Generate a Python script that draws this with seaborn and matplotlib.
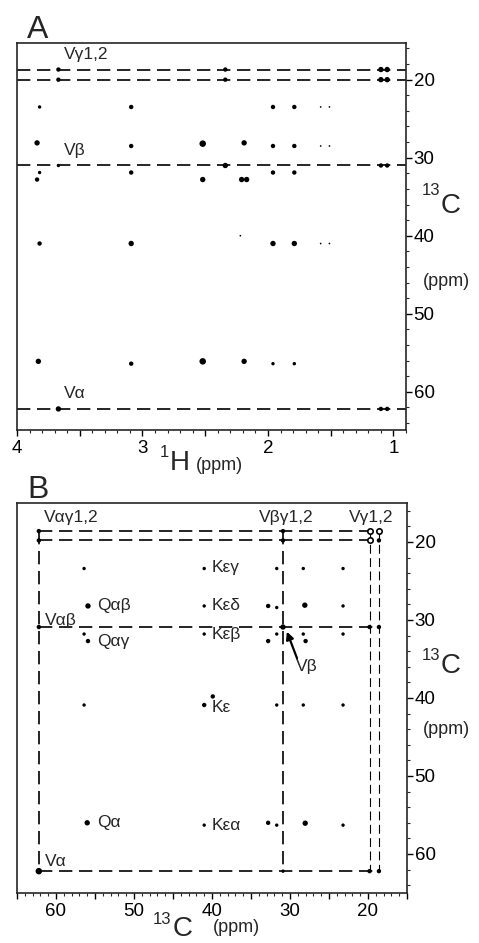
import matplotlib
matplotlib.use("Agg")
import matplotlib.pyplot as plt
import seaborn as sns
import pandas as pd
from matplotlib.ticker import MultipleLocator, FuncFormatter

# ---------------- Panel A data (1H ppm, 13C ppm, peak intensity level) ----------------
a_h = [3.67, 3.67, 2.34, 2.34, 1.10, 1.05, 1.10, 1.05,
       3.67, 2.34, 1.10, 1.05,
       3.67, 1.10, 1.05,
       3.82, 3.09, 1.96, 1.79, 1.58, 1.51,
       3.84, 3.09, 2.52, 2.19, 1.96, 1.79, 1.58, 1.51,
       3.82, 3.09, 1.96, 1.79,
       3.84, 2.52, 2.21, 2.17,
       2.22,
       3.82, 3.09, 1.96, 1.79, 1.58, 1.51,
       3.83, 2.52, 2.19,
       3.09, 1.96, 1.79]
a_c = [18.7, 20.0, 18.7, 20.0, 18.7, 18.7, 20.0, 20.0,
       31.0, 31.0, 31.0, 31.0,
       62.2, 62.2, 62.2,
       23.5, 23.5, 23.5, 23.5, 23.5, 23.5,
       28.1, 28.5, 28.2, 28.1, 28.5, 28.5, 28.5, 28.5,
       31.9, 31.9, 31.9, 31.9,
       32.8, 32.8, 32.8, 32.8,
       40.0,
       41.0, 41.0, 41.0, 41.0, 41.0, 41.0,
       56.1, 56.1, 56.1,
       56.4, 56.4, 56.4]
a_int = [2, 2, 2, 2, 3, 3, 3, 3,
         1, 3, 2, 2,
         3, 2, 2,
         1, 2, 2, 2, 0, 0,
         3, 2, 4, 3, 2, 2, 0, 0,
         1, 2, 2, 2,
         2, 3, 3, 3,
         0,
         2, 3, 3, 3, 0, 0,
         3, 4, 3,
         2, 1, 1]
a_lines = [18.7, 20.0, 31.0, 62.2]
a_labels = ["Vγ1,2", "Vβ", "Vα"]
a_label_h = [3.63, 3.63, 3.63]
a_label_c = [16.8, 29.1, 60.2]

# ---------------- Panel B data (13C F2 ppm, 13C F1 ppm, intensity) ----------------
val_shifts = [62.2, 30.9, 19.8, 18.6]
b_x = [62.2, 62.2, 62.2, 62.2,
       30.9, 30.9, 30.9, 30.9,
       19.8, 19.8,
       18.6, 18.6, 18.6,
       56.4, 41.0, 31.7, 28.3, 23.2,
       55.9, 41.0, 32.8, 31.7, 28.1, 23.2,
       56.4, 41.0, 31.7, 28.3, 23.2,
       55.9, 32.8, 28.0,
       39.9,
       56.4, 41.0, 31.7, 28.3, 23.2,
       56.0, 32.8, 28.05,
       41.0, 31.7, 23.2]
b_y = [18.6, 19.8, 30.9, 62.2,
       18.6, 19.8, 30.9, 62.2,
       30.9, 62.2,
       19.8, 30.9, 62.2,
       23.4, 23.4, 23.4, 23.4, 23.4,
       28.2, 28.2, 28.2, 28.4, 28.1, 28.2,
       31.8, 31.8, 31.8, 31.8, 31.8,
       32.7, 32.7, 32.7,
       39.8,
       40.9, 40.9, 40.9, 40.9, 40.9,
       56.0, 56.0, 56.05,
       56.3, 56.3, 56.3]
b_int = [2, 2, 2, 4,
         2, 2, 3, 1,
         2, 2,
         2, 2, 2,
         1, 1, 1, 1, 1,
         3, 1, 2, 1, 3, 1,
         1, 1, 1, 1, 1,
         2, 2, 2,
         2,
         1, 2, 1, 1, 1,
         3, 2, 3,
         1, 1, 1]
ring_x = [19.8, 18.6, 19.8]
ring_y = [18.6, 18.6, 19.8]
b_labels = ["Vαγ1,2", "Vβγ1,2", "Vγ1,2", "Kεγ", "Qαβ", "Kεδ", "Vαβ",
            "Qαγ", "Kεβ", "Kε", "Qα", "Kεα", "Vα"]
b_label_x = [61.6, 34.0, 22.4, 40.1, 54.7, 40.1, 61.4,
             54.7, 40.1, 40.1, 54.7, 40.1, 61.4]
b_label_y = [16.8, 16.8, 16.8, 23.3, 28.2, 28.2, 30.0,
             32.7, 31.8, 41.2, 55.9, 56.3, 61.0]

# ---------------- style ----------------
sns.set_style("ticks")
plt.rcParams["font.family"] = ["Liberation Sans", "DejaVu Sans"]
plt.rcParams["axes.linewidth"] = 1.2

W, H = 479, 943
fig = plt.figure(figsize=(W / 100, H / 100), dpi=100)

def fx(px):
    return px / W

def fy(py):
    return 1 - py / H

axA = fig.add_axes([fx(17), fy(430), fx(406) - fx(17), fy(43) - fy(430)])
axB = fig.add_axes([fx(17), fy(893), fx(407) - fx(17), fy(503) - fy(893)])

size_map = {0: 1.5, 1: 6, 2: 10, 3: 15, 4: 22}
dash = (8, 4)

# Panel A
dfA = pd.DataFrame({"h": a_h, "c": a_c, "i": a_int})
for yv in a_lines:
    axA.axhline(yv, color="black", lw=1.2, dashes=dash, zorder=1)
sns.scatterplot(data=dfA, x="h", y="c", size="i", sizes=size_map, color="black",
                linewidth=0, legend=False, ax=axA, zorder=3)
for t, xh, yc in zip(a_labels, a_label_h, a_label_c):
    axA.text(xh, yc, t, fontsize=12.5, ha="left", va="center")
axA.set_xlim(4.0, 0.9)
axA.set_ylim(64.9, 15.3)
axA.xaxis.set_major_locator(MultipleLocator(0.5))
axA.xaxis.set_minor_locator(MultipleLocator(0.1))
axA.xaxis.set_major_formatter(FuncFormatter(lambda v, p: f"{v:.0f}" if abs(v - round(v)) < 1e-6 else ""))

# Panel B
dfB = pd.DataFrame({"x": b_x, "y": b_y, "i": b_int})
lo, hi = min(val_shifts), max(val_shifts)
for k, v in enumerate(val_shifts):
    axB.plot([hi, lo], [v, v], color="black", lw=1.2, dashes=dash, zorder=1)
    axB.plot([v, v], [lo, hi], color="black", lw=1.2 if k < 2 else 0.8, dashes=dash, zorder=1)
sns.scatterplot(data=dfB, x="x", y="y", size="i", sizes=size_map, color="black",
                linewidth=0, legend=False, ax=axB, zorder=3)
axB.scatter(ring_x, ring_y, s=15, facecolors="white", edgecolors="black", linewidths=1.2, zorder=4)
for t, xx, yy in zip(b_labels, b_label_x, b_label_y):
    axB.text(xx, yy, t, fontsize=12.5, ha="left", va="center")
axB.text(27.8, 36.0, "Vβ", fontsize=12.5, ha="center", va="center")
axB.annotate("", xy=(30.4, 31.5), xytext=(29.1, 34.9),
             arrowprops=dict(arrowstyle="-|>", lw=1.6, color="black", mutation_scale=11,
                             shrinkA=0, shrinkB=0))
axB.set_xlim(65, 15)
axB.set_ylim(65, 15)
axB.xaxis.set_major_locator(MultipleLocator(5))
axB.xaxis.set_minor_locator(MultipleLocator(1))
axB.xaxis.set_major_formatter(FuncFormatter(lambda v, p: f"{v:.0f}" if round(v) % 10 == 0 else ""))

for ax in (axA, axB):
    ax.yaxis.tick_right()
    ax.yaxis.set_major_locator(MultipleLocator(10))
    ax.yaxis.set_minor_locator(MultipleLocator(2))
    ax.set_xlabel("")
    ax.set_ylabel("")
    for s in ax.spines.values():
        s.set_visible(True)
        s.set_linewidth(1.2)
    ax.tick_params(axis="both", which="major", direction="out", length=4, width=1.0,
                   labelsize=13.5, colors="black")
    ax.tick_params(axis="both", which="minor", direction="out", length=2.2, width=0.8)
    ax.tick_params(axis="y", which="major", pad=1.5)
    ax.tick_params(axis="x", which="major", pad=3)
    ax.set_facecolor("white")

# Panel letters
fig.text(fx(27), fy(38), "A", fontsize=23, ha="left", va="baseline")
fig.text(fx(27), fy(498), "B", fontsize=23, ha="left", va="baseline")

# Axis labels built from pieces
def iso_label(x_sup, y_sup, x_main, y_main, sup, main, x_ppm, y_ppm):
    fig.text(fx(x_sup), fy(y_sup), sup, fontsize=12, ha="left", va="baseline")
    fig.text(fx(x_main), fy(y_main), main, fontsize=20, ha="left", va="baseline")
    fig.text(fx(x_ppm), fy(y_ppm), "(ppm)", fontsize=13, ha="left", va="center")

iso_label(422, 195, 441, 213, "13", "C", 423, 282)      # A right
iso_label(160, 457, 170, 470, "1", "H", 196, 465)       # A bottom
iso_label(422, 660, 441, 673, "13", "C", 423, 730)      # B right
iso_label(153, 924, 173, 936, "13", "C", 213, 927)      # B bottom

fig.savefig("out.png", dpi=100, facecolor="white")
